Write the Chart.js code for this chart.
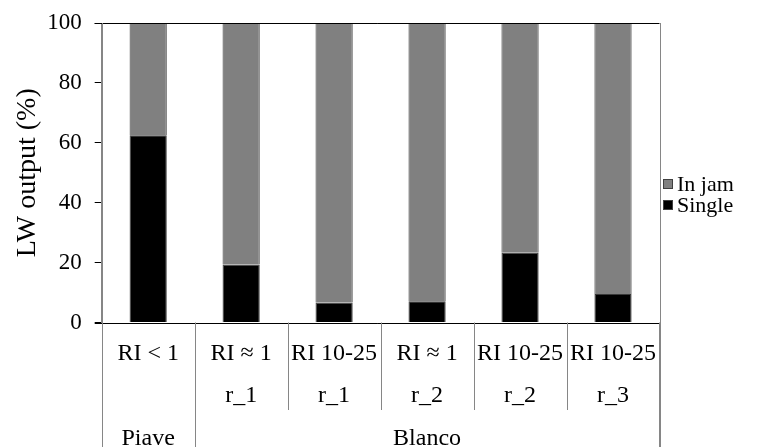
<!DOCTYPE html>
<html>
<head>
<meta charset="utf-8">
<script src="https://cdn.jsdelivr.net/npm/chart.js@4/dist/chart.umd.min.js"></script>
<style>
  html, body { margin: 0; padding: 0; background: #fff; }
  #wrap { width: 763px; height: 447px; }
</style>
</head>
<body>
<div id="wrap"><canvas id="c" width="763" height="447"></canvas></div>
<script>
// Categories: reach index class, sub-reach, river
const categories = ['RI < 1', 'RI \u2248 1', 'RI 10-25', 'RI \u2248 1', 'RI 10-25', 'RI 10-25'];
const reaches = ['', 'r_1', 'r_1', 'r_2', 'r_2', 'r_3'];
const rivers = [
  { name: 'Piave', from: 0, to: 0 },
  { name: 'Blanco', from: 1, to: 5 }
];
// LW output shares (%)
const singleValues = [62.5, 19.4, 6.7, 7.1, 23.3, 9.5];
const inJamValues = [37.5, 80.6, 93.3, 92.9, 76.7, 90.5];
const yTicks = [0, 20, 40, 60, 80, 100];

const SERIF = '"Liberation Serif", "Times New Roman", serif';
const GREY_LINE = '#868686';

// Frame, multi-level category axis and legend
const framePlugin = {
  id: 'frame',
  afterDraw(chart) {
    const { ctx, chartArea: a, scales: { x } } = chart;
    const H = chart.height;
    const half = (x.getPixelForValue(1) - x.getPixelForValue(0)) / 2;
    const edge = i => x.getPixelForValue(i) - half;
    ctx.save();
    // top border
    ctx.strokeStyle = '#000';
    ctx.lineWidth = 1;
    ctx.beginPath();
    ctx.moveTo(a.left - 7, Math.round(a.top) + 0.5);
    ctx.lineTo(a.right, Math.round(a.top) + 0.5);
    ctx.stroke();
    // category axis line
    ctx.beginPath();
    ctx.moveTo(a.left - 7, Math.round(a.bottom) + 0.5);
    ctx.lineTo(a.right, Math.round(a.bottom) + 0.5);
    ctx.stroke();
    // right border running down through the label rows
    ctx.strokeStyle = GREY_LINE;
    ctx.beginPath();
    ctx.moveTo(Math.round(a.right) + 0.5, a.top);
    ctx.lineTo(Math.round(a.right) + 0.5, H);
    ctx.stroke();
    // category dividers
    const groupEdges = new Set();
    rivers.forEach(r => { groupEdges.add(r.from); groupEdges.add(r.to + 1); });
    for (let i = 0; i <= categories.length; i++) {
      const px = Math.round(edge(i)) + 0.5;
      const yEnd = groupEdges.has(i) ? H : 410;
      ctx.beginPath();
      ctx.moveTo(px, i === 0 ? a.top : a.bottom);
      ctx.lineTo(px, yEnd);
      ctx.stroke();
    }
    // label rows
    ctx.fillStyle = '#000';
    ctx.textAlign = 'center';
    ctx.textBaseline = 'alphabetic';
    ctx.font = '24px ' + SERIF;
    categories.forEach((c, i) => ctx.fillText(c, x.getPixelForValue(i), 360));
    reaches.forEach((r, i) => { if (r) ctx.fillText(r, x.getPixelForValue(i), 402); });
    rivers.forEach(r => {
      const cx = (edge(r.from) + edge(r.to + 1)) / 2;
      ctx.fillText(r.name, cx, 445);
    });
    // legend (top entry = top of stack)
    ctx.font = '22px ' + SERIF;
    ctx.textAlign = 'left';
    ctx.textBaseline = 'middle';
    const ds = chart.data.datasets.slice().reverse();
    ds.forEach((d, k) => {
      const cy = 184 + k * 21;
      ctx.fillStyle = d.backgroundColor;
      ctx.fillRect(663, cy - 5, 10, 10);
      ctx.strokeStyle = '#404040';
      ctx.strokeRect(663.5, cy - 4.5, 9, 9);
      ctx.fillStyle = '#000';
      ctx.fillText(d.label, 677, cy + 1);
    });
    ctx.restore();
  }
};

new Chart(document.getElementById('c'), {
  type: 'bar',
  data: {
    labels: categories,
    datasets: [
      { label: 'Single', data: singleValues, backgroundColor: '#000000', borderColor: '#3a3a3a', borderWidth: 1 },
      { label: 'In jam', data: inJamValues, backgroundColor: '#808080', borderColor: '#3a3a3a', borderWidth: 1 }
    ]
  },
  options: {
    responsive: false,
    animation: false,
    devicePixelRatio: 1,
    layout: { padding: { left: 0, right: 103.5, top: 23, bottom: 124.5 } },
    datasets: { bar: { barPercentage: 0.4, categoryPercentage: 1 } },
    plugins: { legend: { display: false }, tooltip: { enabled: false } },
    scales: {
      x: { stacked: true, display: false, offset: true },
      y: {
        stacked: true,
        min: 0,
        max: 100,
        afterBuildTicks: s => { s.ticks = yTicks.map(v => ({ value: v })); },
        afterFit: s => { s.width = 101.7; s.paddingTop = 0; s.paddingBottom = 0; },
        ticks: { color: '#000', font: { family: SERIF, size: 23 }, padding: 13 },
        grid: { drawOnChartArea: false, drawTicks: true, tickLength: 7, color: '#000' },
        border: { display: true, color: GREY_LINE, width: 1 },
        title: {
          display: true,
          text: 'LW output (%)',
          color: '#000',
          font: { family: SERIF, size: 28 },
          padding: { top: 11, bottom: 0 }
        }
      }
    }
  },
  plugins: [framePlugin]
});
</script>
</body>
</html>
